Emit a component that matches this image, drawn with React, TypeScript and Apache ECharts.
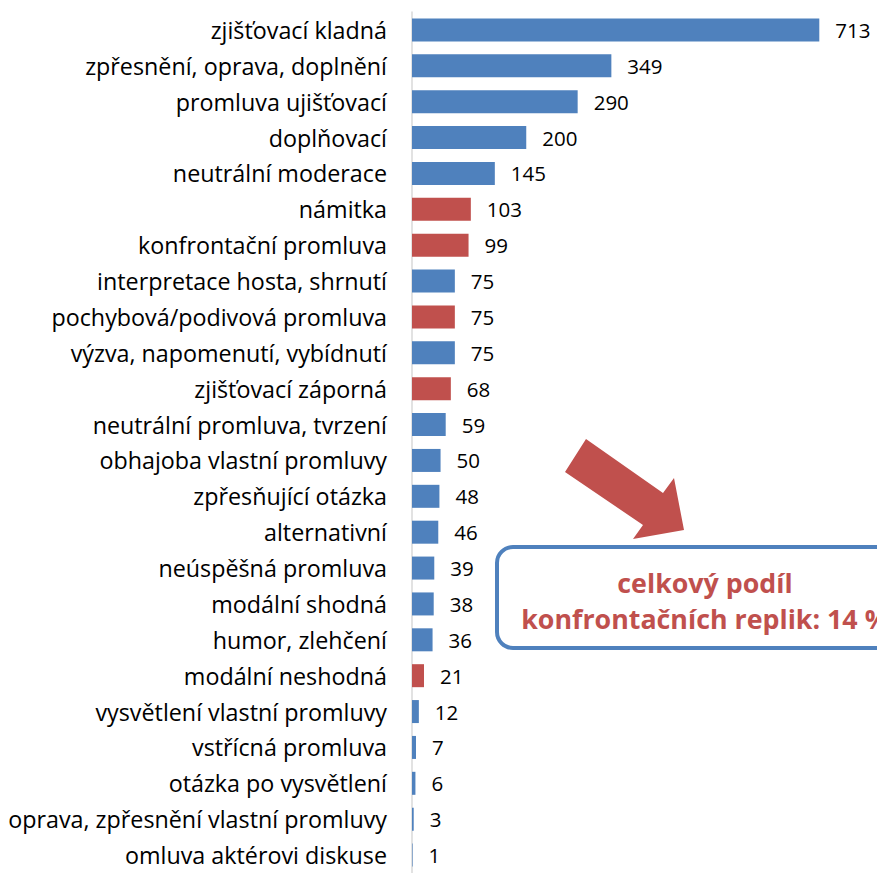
import React, { useEffect, useRef } from "react";
import * as echarts from "echarts";

const categories = [
  "zjišťovací kladná",
  "zpřesnění, oprava, doplnění",
  "promluva ujišťovací",
  "doplňovací",
  "neutrální moderace",
  "námitka",
  "konfrontační promluva",
  "interpretace hosta, shrnutí",
  "pochybová/podivová promluva",
  "výzva, napomenutí, vybídnutí",
  "zjišťovací záporná",
  "neutrální promluva, tvrzení",
  "obhajoba vlastní promluvy",
  "zpřesňující otázka",
  "alternativní",
  "neúspěšná promluva",
  "modální shodná",
  "humor, zlehčení",
  "modální neshodná",
  "vysvětlení vlastní promluvy",
  "vstřícná promluva",
  "otázka po vysvětlení",
  "oprava, zpřesnění vlastní promluvy",
  "omluva aktérovi diskuse",
];

const values = [713, 349, 290, 200, 145, 103, 99, 75, 75, 75, 68, 59, 50, 48, 46, 39, 38, 36, 21, 12, 7, 6, 3, 1];

// true = confrontational (red)
const confrontational = [
  false, false, false, false, false, true, true, false, true, false, true, false,
  false, false, false, false, false, false, true, false, false, false, false, false,
];

const annotationLines = ["celkový podíl", "konfrontačních replik: 14 %"];

const BLUE = "#4F81BD";
const RED = "#C0504D";
const FONT = "'Open Sans', 'Noto Sans', sans-serif";

export default function App() {
  const ref = useRef<HTMLDivElement>(null);

  useEffect(() => {
    if (!ref.current) return;
    const chart = echarts.init(ref.current, null, { renderer: "svg" });
    chart.setOption({
      animation: false,
      textStyle: { fontFamily: FONT },
      grid: { left: 412, top: 12, width: 457, height: 869, containLabel: false },
      xAxis: {
        type: "value",
        min: 0,
        max: 800,
        show: false,
        splitLine: { show: false },
      },
      yAxis: {
        type: "category",
        inverse: true,
        data: categories,
        axisLine: { show: true, lineStyle: { color: "#D9D9D9", width: 1.5 } },
        axisTick: { show: false },
        axisLabel: { margin: 25, fontSize: 23.3, color: "#000", fontFamily: FONT },
      },
      series: [
        {
          type: "bar",
          barWidth: 23,
          data: values.map((v, i) => ({
            value: v,
            itemStyle: { color: confrontational[i] ? RED : BLUE },
          })),
          label: {
            show: true,
            position: "right",
            distance: 16,
            fontSize: 20.5,
            color: "#000",
            fontFamily: FONT,
          },
        },
      ],
      graphic: [
        {
          type: "polygon",
          shape: {
            points: [
              [586, 439],
              [663, 493],
              [674, 478],
              [684, 530],
              [633, 539],
              [643, 525],
              [565, 472],
            ],
          },
          style: { fill: RED },
        },
        {
          type: "rect",
          shape: { x: 497, y: 547, width: 416, height: 101, r: 16 },
          style: { fill: "#fff", stroke: BLUE, lineWidth: 4 },
        },
        {
          type: "text",
          x: 705,
          y: 582,
          style: {
            text: annotationLines[0],
            fill: RED,
            font: `bold 26.8px ${FONT}`,
            textAlign: "center",
            textVerticalAlign: "middle",
          },
        },
        {
          type: "text",
          x: 705,
          y: 618,
          style: {
            text: annotationLines[1],
            fill: RED,
            font: `bold 26.8px ${FONT}`,
            textAlign: "center",
            textVerticalAlign: "middle",
          },
        },
      ],
    });
    return () => chart.dispose();
  }, []);

  return (
    <div
      ref={ref}
      style={{ position: "absolute", left: 0, top: 0, width: 877, height: 873, background: "#fff" }}
    />
  );
}
